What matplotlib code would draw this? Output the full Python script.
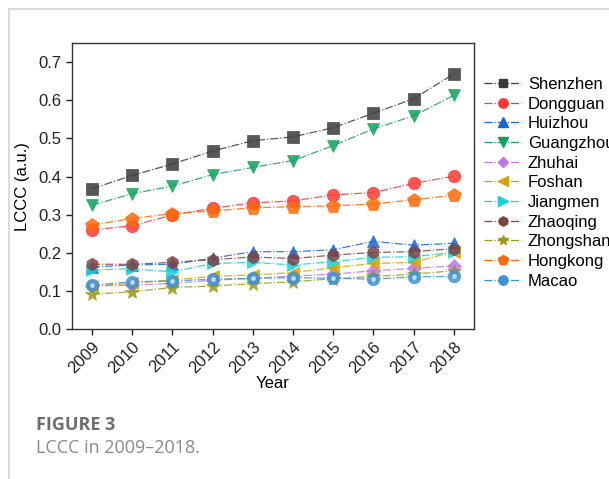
import matplotlib.pyplot as plt
from matplotlib.lines import Line2D

plt.rcParams['font.family'] = ['Liberation Sans', 'DejaVu Sans']

years = [2009, 2010, 2011, 2012, 2013, 2014, 2015, 2016, 2017, 2018]

shenzhen = [0.368, 0.403, 0.433, 0.467, 0.494, 0.504, 0.528, 0.566, 0.604, 0.669]
dongguan = [0.260, 0.271, 0.299, 0.317, 0.331, 0.336, 0.352, 0.358, 0.382, 0.401]
huizhou = [0.163, 0.168, 0.170, 0.186, 0.203, 0.203, 0.208, 0.230, 0.220, 0.225]
guangzhou = [0.325, 0.355, 0.375, 0.405, 0.424, 0.442, 0.481, 0.525, 0.559, 0.613]
zhuhai = [0.113, 0.115, 0.120, 0.128, 0.133, 0.139, 0.144, 0.153, 0.159, 0.166]
foshan = [0.113, 0.120, 0.129, 0.138, 0.142, 0.148, 0.161, 0.172, 0.175, 0.203]
jiangmen = [0.155, 0.158, 0.150, 0.172, 0.175, 0.168, 0.177, 0.188, 0.190, 0.201]
zhaoqing = [0.170, 0.170, 0.175, 0.182, 0.189, 0.185, 0.194, 0.201, 0.203, 0.211]
zhongshan = [0.091, 0.098, 0.109, 0.113, 0.119, 0.124, 0.132, 0.138, 0.144, 0.153]
hongkong = [0.273, 0.290, 0.303, 0.310, 0.318, 0.321, 0.323, 0.328, 0.339, 0.351]
macao = [0.115, 0.124, 0.126, 0.131, 0.133, 0.135, 0.133, 0.131, 0.137, 0.138]

# name, values, colour, marker, marker size
series = [
    ('Shenzhen', shenzhen, '#3a3a3a', 's', 8),
    ('Dongguan', dongguan, '#ff3838', 'o', 9),
    ('Huizhou', huizhou, '#1466d8', '^', 9),
    ('Guangzhou', guangzhou, '#12a05a', 'v', 9),
    ('Zhuhai', zhuhai, '#c275e6', 'D', 7),
    ('Foshan', foshan, '#d9a000', '<', 9),
    ('Jiangmen', jiangmen, '#14d2d6', '>', 9),
    ('Zhaoqing', zhaoqing, '#7e4444', 'h', 9),
    ('Zhongshan', zhongshan, '#9a9a1a', '*', 10),
    ('Hongkong', hongkong, '#ff6a0a', 'p', 10),
    ('Macao', macao, '#3f93d2', 'o', 9),
]

fig = plt.figure(figsize=(6.09, 4.79), dpi=100)
ax = fig.add_axes([0.118, 0.313, 0.660, 0.597])

handles = []
for name, vals, col, mk, ms in series:
    ax.plot(years, vals, linestyle='-.', color=col, lw=0.9, alpha=0.85,
            marker=mk, markersize=ms, markerfacecolor=col,
            markeredgecolor=col, markeredgewidth=0.5)
    handles.append(Line2D([], [], linestyle='-.', color=col, lw=0.9,
                          marker=mk, markersize=ms * 0.75,
                          markerfacecolor=col, markeredgecolor=col))

# highlight on the Macao spheres
ax.plot(years, macao, linestyle='none', marker='o', markersize=3.5,
        markerfacecolor='#b9dcf5', markeredgecolor='none')

ax.set_xlim(2008.5, 2018.5)
ax.set_ylim(0, 0.75)
ax.set_xticks(years)
ax.set_xticklabels([str(y) for y in years], rotation=45,
                   ha='right', rotation_mode='anchor')
ax.set_yticks([0.0, 0.1, 0.2, 0.3, 0.4, 0.5, 0.6, 0.7])
ax.tick_params(direction='out', labelsize=12, length=4, width=1,
               colors='#222222')
for sp in ax.spines.values():
    sp.set_color('#333333')
    sp.set_linewidth(1.0)
ax.set_xlabel('Year', fontsize=12, labelpad=0)
ax.set_ylabel('LCCC (a.u.)', fontsize=12, labelpad=6)

names = [s[0] for s in series]
ax.legend(handles, names, loc='upper left', bbox_to_anchor=(1.01, 0.905),
          frameon=False, fontsize=12, handlelength=2.2, handletextpad=0.4,
          labelspacing=0.28, borderaxespad=0)

# panel frame and caption
fig.add_artist(Line2D([9 / 609, 9 / 609], [0, 1 - 9 / 479],
                      color='#d4d4d4', lw=1.2))
fig.add_artist(Line2D([9 / 609, 1], [1 - 9 / 479, 1 - 9 / 479],
                      color='#d4d4d4', lw=1.2))
fig.text(36 / 609, 1 - 425 / 479, 'FIGURE 3', fontsize=13,
         fontweight='bold', color='#6e6e6e', family=['Open Sans', 'DejaVu Sans'],
         va='center')
fig.text(36 / 609, 1 - 448 / 479, 'LCCC in 2009\u20132018.', fontsize=13,
         color='#8a8a8a', family=['Open Sans', 'DejaVu Sans'], va='center')

fig.savefig('out.png', dpi=100)
